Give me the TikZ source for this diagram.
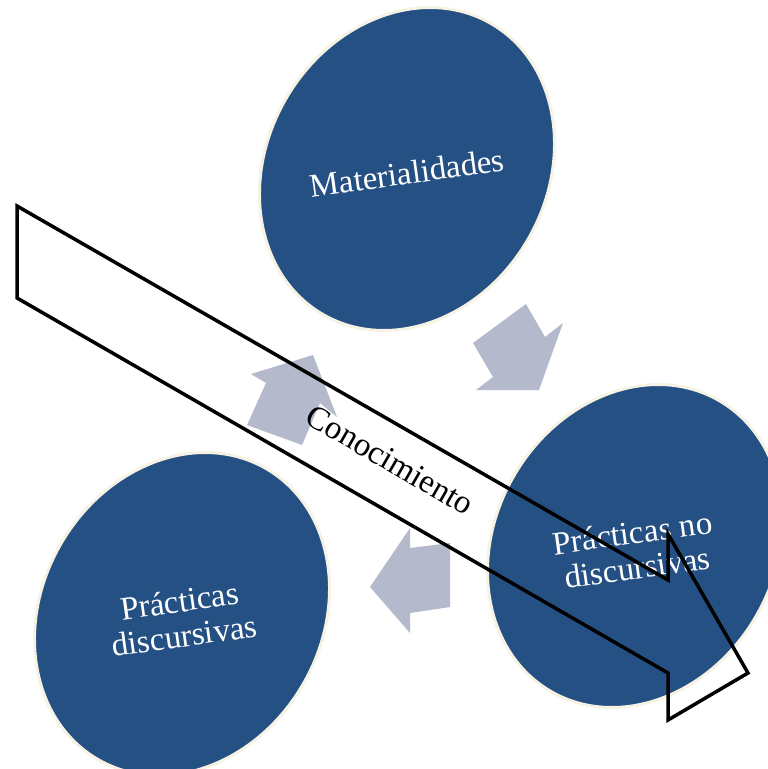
\documentclass[tikz,border=0pt]{standalone}
\usepackage{fontspec}
\setmainfont{Liberation Serif}
\definecolor{bubbleblue}{RGB}{37,80,132}
\definecolor{bubbleedge}{RGB}{246,242,228}
\definecolor{cyclegray}{RGB}{180,186,203}
\begin{document}
\begin{tikzpicture}[x=1pt,y=-1pt,
    bubbletext/.style={text=white, align=center, rotate=8,
      font=\fontsize{33}{35}\selectfont},
    cyclearrow/.style={fill=cyclegray},
    bigarrow/.style={draw=black, line width=3.5pt, line join=miter}]
  \def\bubble(#1)#2#3{%
    \begin{scope}[shift={(#1)}]
    \filldraw[fill=bubbleblue, draw=bubbleedge, line width=3pt, rotate=-30]
      (0,0) ellipse [x radius=140pt, y radius=168pt];
    \node[bubbletext] (#2) at (0,4) {#3};
  \end{scope}
  }

  \clip (0,0) rectangle (768,769);
  \fill[white] (0,0) rectangle (768,769);

  \bubble(407,169){mat}{Materialidades}
  \bubble(635,546){nodisc}{Prácticas no\\discursivas}
  \bubble(182,614){disc}{Prácticas\\discursivas}

  % cycle arrows
  \fill[cyclearrow] (539,390) -- (563,323) -- (545,337) -- (526,304)
    -- (473,343) -- (493,377) -- (476,390) -- cycle;
  \fill[cyclearrow] (370,587) -- (410,528) -- (410,548) -- (450,543)
    -- (450,607) -- (410,613) -- (410,633) -- cycle;
  \fill[cyclearrow] (313,355) -- (337,417) -- (320,403) -- (302,445)
    -- (247,425) -- (266,383) -- (251,374) -- cycle;

  \node[rotate=-30, font=\fontsize{33}{35}\selectfont] (know) at (390,460) {Conocimiento};
  \draw[bigarrow] (17,206) -- (668,580) -- (668,534) -- (748,673)
    -- (668,720) -- (668,673) -- (17,298) -- cycle;
\end{tikzpicture}
\end{document}
